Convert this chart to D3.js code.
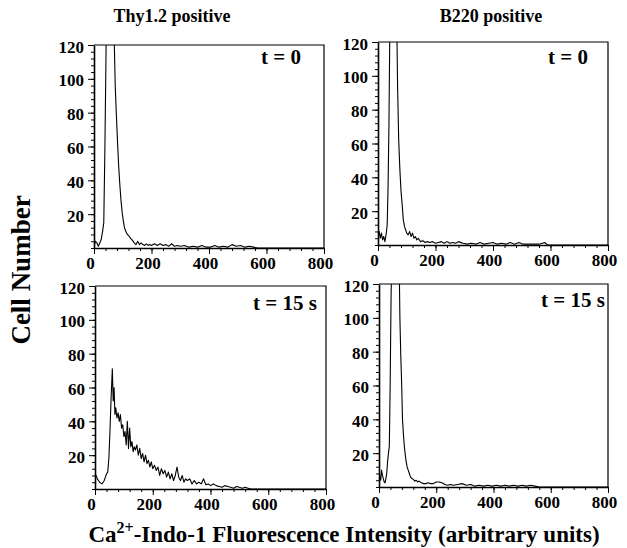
<!DOCTYPE html>
<html lang="en">

<head>
    <meta charset="utf-8">
    <title>Ca2+ flux histograms</title>
    <script src="https://d3js.org/d3.v7.min.js"></script>
    <style>
        body, html {
            margin: 0;
            padding: 0;
            background: #fff;
        }

        text {
            font-family: "Liberation Serif", "Times New Roman", serif;
            font-weight: bold;
            fill: #000;
        }

        .axis path,
        .axis line {
            stroke: #000;
        }

        .axis text {
            font-size: 17px;
        }

        .curve {
            fill: none;
            stroke: #000;
            stroke-width: 1.1px;
            stroke-linejoin: round;
        }

        .frame {
            fill: none;
            stroke: #000;
            stroke-width: 1.2px;
        }
    </style>
</head>

<body>
    <svg width="627" height="548"></svg>

    <script>
        // tick labels
        var xTicks = [0, 200, 400, 600, 800];
        var yTicks = [20, 40, 60, 80, 100, 120];
        var columnTitles = ["Thy1.2 positive", "B220 positive"];
        var timeLabels = ["t = 0", "t = 0", "t = 15 s", "t = 15 s"];

        // Thy1.2 positive, t = 0
        var thyT0X = [0, 5, 10, 15, 20, 25, 30, 34, 38, 42, 46, 66, 70, 74, 78, 82, 86, 90, 94, 98, 102, 106, 110, 116, 122, 128, 134, 140, 146, 152, 158, 164, 170, 176, 182, 188, 194, 200, 210, 220, 230, 240, 250, 260, 270, 280, 290, 300, 315, 330, 345, 360, 375, 390, 405, 420, 435, 450, 465, 480, 495, 510, 525, 540, 555, 570, 600, 700, 800];
        var thyT0Counts = [1, 4, 3, 1, 3, 5, 10, 15, 60, 118, 160, 160, 125, 95, 78, 62, 48, 37, 28, 21, 16, 12, 10, 8, 7, 5.5, 4.5, 3, 2, 4, 2, 3, 2, 1.5, 2.5, 1.5, 2, 1.5, 2.5, 1.5, 2.5, 1.5, 2, 1, 2.5, 1, 1.5, 1, 1.5, 0.5, 1, 0.5, 1.5, 0.5, 0.5, 1.5, 0.5, 1, 0.5, 2, 1, 1.5, 0.5, 1, 0.5, 0, 0, 0, 0];

        // B220 positive, t = 0
        var b220T0X = [0, 4, 8, 12, 16, 20, 24, 28, 32, 35, 38, 41, 64, 68, 72, 76, 80, 84, 88, 92, 96, 100, 105, 110, 115, 120, 125, 130, 135, 140, 148, 156, 164, 172, 180, 190, 200, 210, 220, 230, 240, 250, 260, 270, 280, 295, 310, 325, 340, 355, 370, 385, 400, 415, 430, 445, 460, 475, 490, 505, 520, 540, 560, 580, 590, 600, 700, 800];
        var b220T0Counts = [6, 8, 4, 7, 3, 5, 2, 6, 12, 34, 70, 125, 150, 95, 62, 45, 32, 24, 15, 11, 9, 7, 6, 8, 5, 7, 4, 5, 3, 4, 2, 2.5, 1.5, 2, 1.5, 2, 1, 1.5, 2, 1, 2, 1, 1.5, 1, 2, 1, 0.5, 1, 0.5, 1.5, 0.5, 1, 1.5, 0.5, 1, 0.5, 1.5, 0.5, 1.5, 0.5, 0.5, 0.5, 0.5, 1.5, 0, 0, 0, 0];

        // Thy1.2 positive, t = 15 s
        var thyT15X = [0, 4, 8, 12, 16, 20, 24, 28, 32, 36, 40, 44, 48, 52, 56, 60, 63, 66, 69, 72, 76, 80, 84, 88, 92, 96, 100, 104, 108, 112, 116, 120, 124, 128, 132, 136, 140, 145, 150, 155, 160, 165, 170, 175, 180, 185, 190, 195, 200, 206, 212, 218, 224, 230, 236, 242, 248, 254, 260, 266, 272, 278, 284, 290, 296, 302, 308, 314, 320, 328, 336, 344, 352, 360, 368, 376, 384, 392, 400, 410, 420, 430, 440, 450, 460, 470, 480, 490, 500, 510, 520, 530, 540, 560, 600, 700, 800];
        var thyT15Counts = [7, 8, 6, 5, 4, 3.5, 3, 4, 5, 7, 9, 10, 18, 35, 55, 71, 52, 60, 44, 48, 42, 45, 40, 44, 36, 38, 31, 34, 26, 40, 24, 36, 25, 28, 22, 25, 23, 26, 20, 24, 18, 21, 16, 20, 15, 17, 13, 16, 12, 14, 11, 13, 8, 12, 9, 11, 7, 10, 6, 9, 5, 8, 13, 7, 5, 8, 4, 6, 5, 6, 3, 5, 3, 4, 3, 6, 2.5, 3, 2, 3, 2, 1.5, 1, 2, 1.5, 1, 0.5, 1.5, 1, 0.5, 1, 0.5, 0, 0, 0, 0, 0];

        // B220 positive, t = 15 s
        var b220T15X = [0, 3, 6, 9, 12, 15, 18, 21, 24, 27, 30, 33, 36, 39, 42, 45, 70, 73, 76, 79, 82, 85, 88, 91, 94, 98, 102, 106, 110, 115, 120, 125, 130, 135, 140, 148, 156, 164, 172, 180, 190, 200, 210, 220, 230, 240, 250, 260, 275, 290, 305, 320, 335, 350, 365, 380, 395, 410, 425, 440, 455, 470, 485, 500, 515, 530, 545, 560, 580, 600, 700, 800];
        var b220T15Counts = [11, 6, 4, 10, 7, 5, 3, 2.5, 5, 8, 15, 20, 24, 60, 110, 140, 140, 100, 78, 62, 40, 32, 25, 20, 16, 12, 10, 8, 6, 5, 4.5, 3.5, 4, 3, 3.5, 2.5, 2, 2, 2.5, 2, 2, 3, 3, 2.5, 1.5, 1, 1.5, 1, 1.5, 2, 1, 1.5, 0.5, 1, 0.5, 1, 0.5, 1, 0.5, 1, 0.5, 1, 0.5, 1, 0.5, 1, 0.5, 0, 0, 0, 0, 0];

        var series = [
            { xs: thyT0X, ys: thyT0Counts },
            { xs: b220T0X, ys: b220T0Counts },
            { xs: thyT15X, ys: thyT15Counts },
            { xs: b220T15X, ys: b220T15Counts }
        ];

        // panel boxes in pixels: left, right, top, bottom, label offsets
        var panels = [
            { left: 94, right: 324, top: 45, bottom: 248, lx: 23, ly: 19 },
            { left: 378, right: 608, top: 42, bottom: 245, lx: 20, ly: 22 },
            { left: 95, right: 326, top: 286, bottom: 489, lx: 9, ly: 24 },
            { left: 379, right: 608, top: 284, bottom: 487, lx: 3, ly: 23 }
        ];

        var svg = d3.select("svg");

        panels.forEach(function (p, i) {
            var x = d3.scaleLinear().domain([0, 800]).range([p.left, p.right]);
            var y = d3.scaleLinear().domain([0, 120]).range([p.bottom, p.top]);
            var g = svg.append("g");

            g.append("clipPath").attr("id", "clip" + i)
                .append("rect")
                .attr("x", p.left).attr("y", p.top)
                .attr("width", p.right - p.left).attr("height", p.bottom - p.top);

            // frame on top and right
            g.append("path").attr("class", "frame")
                .attr("d", "M" + p.left + "," + p.top + "H" + p.right + "V" + p.bottom);

            var s = series[i];
            var pts = s.xs.map(function (v, k) { return [v, s.ys[k]]; });
            var line = d3.line()
                .x(function (d) { return x(d[0]); })
                .y(function (d) { return y(d[1]); });

            g.append("path").attr("class", "curve")
                .attr("clip-path", "url(#clip" + i + ")")
                .attr("d", line(pts));

            // minor ticks
            g.append("g").attr("class", "axis")
                .attr("transform", "translate(0," + p.bottom + ")")
                .call(d3.axisBottom(x).tickValues(d3.range(0, 801, 40)).tickSize(3).tickFormat(""))
                .call(function (a) { a.select(".domain").remove(); });
            g.append("g").attr("class", "axis")
                .attr("transform", "translate(" + p.left + ",0)")
                .call(d3.axisLeft(y).tickValues(d3.range(0, 121, 4)).tickSize(3).tickFormat(""))
                .call(function (a) { a.select(".domain").remove(); });

            // major ticks
            var xa = g.append("g").attr("class", "axis")
                .attr("transform", "translate(0," + p.bottom + ")")
                .call(d3.axisBottom(x).tickValues(xTicks).tickSize(6).tickSizeOuter(0).tickPadding(3));
            xa.select(".domain").attr("stroke-width", 1.6);
            xa.selectAll("text").attr("dx", -4);

            var ya = g.append("g").attr("class", "axis")
                .attr("transform", "translate(" + p.left + ",0)")
                .call(d3.axisLeft(y).tickValues(yTicks).tickSize(6).tickSizeOuter(0).tickPadding(4));
            ya.select(".domain").attr("stroke-width", 1.6);
            ya.selectAll("text").attr("dy", "0.42em");

            g.append("text")
                .attr("x", p.right - p.lx)
                .attr("y", p.top + p.ly)
                .attr("text-anchor", "end")
                .style("font-size", "21px")
                .text(timeLabels[i]);
        });

        svg.selectAll(".coltitle")
            .data(columnTitles)
            .enter().append("text")
            .attr("class", "coltitle")
            .attr("x", function (d, i) { return i === 0 ? 172 : 491; })
            .attr("y", 22)
            .attr("text-anchor", "middle")
            .style("font-size", "18px")
            .text(function (d) { return d; });

        svg.append("text")
            .attr("transform", "translate(30,270) rotate(-90)")
            .attr("text-anchor", "middle")
            .style("font-size", "27px")
            .text("Cell Number");

        var xl = svg.append("text")
            .attr("x", 344)
            .attr("y", 542)
            .attr("text-anchor", "middle")
            .style("font-size", "23px");
        xl.append("tspan").text("Ca");
        xl.append("tspan").attr("dy", -9).style("font-size", "16px").text("2+");
        xl.append("tspan").attr("dy", 9).text("-Indo-1 Fluorescence Intensity (arbitrary units)");
    </script>
</body>

</html>
